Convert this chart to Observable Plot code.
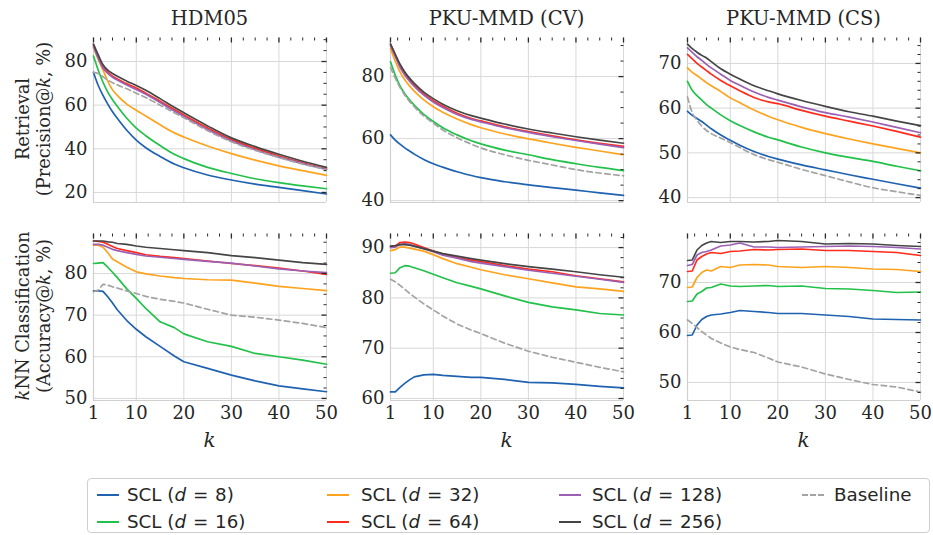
<!DOCTYPE html>
<html><head><meta charset="utf-8">
<script src="https://cdn.jsdelivr.net/npm/d3@7"></script>
<script src="https://cdn.jsdelivr.net/npm/@observablehq/plot@0.6"></script>
<style>
body{margin:0;background:#fff;}
#root{position:relative;width:933px;height:535px;overflow:hidden;font-family:"DejaVu Serif";color:#262626;background:#fff;}
.abs{position:absolute;}
.title{font-size:19.5px;white-space:nowrap;transform:translate(-50%,-50%);}
.ylab{font-size:17.8px;line-height:21px;text-align:center;white-space:nowrap;transform:translate(-50%,-50%) rotate(-90deg);}
.xlab{font-size:20px;font-style:italic;transform:translate(-50%,-50%);}
#legend{left:87px;top:478px;width:843px;height:55px;border:1px solid #cfcfcf;border-radius:4px;box-sizing:border-box;font-family:"DejaVu Sans";font-size:18.3px;color:#262626;}
.sw{position:absolute;height:0;}
.lt{position:absolute;white-space:nowrap;transform:translateY(-50%);}
.eq{padding:0 1px;}
svg text{font-family:"DejaVu Serif";}
</style></head>
<body><div id="root"></div>
<script>
const ks = [1,2,3,4,5,6,8,10,12,15,18,20,25,30,35,40,45,50];
const seriesNames = ["SCL (d = 8)","SCL (d = 16)","SCL (d = 32)","SCL (d = 64)","SCL (d = 128)","SCL (d = 256)","Baseline"];
const seriesD = ["8","16","32","64","128","256",null];
const colors = ["#1f62b0","#22c14a","#ffa31f","#ff2b1c","#9b5fb3","#454545","#a3a3a3"];
const xTicks = [1,10,20,30,40,50];

// order: d8, d16, d32, d64, d128, d256, baseline
const hdmRetrieval = [
  [75,69,64.5,60.5,57,54,48.5,44,40.5,36.5,33,31.3,28,25.7,23.8,22.3,20.8,19.3],
  [82.5,76,70.5,66,62.5,59.5,54,49.5,46,41.5,37.5,35.5,31.5,28.7,26.3,24.5,23,21.7],
  [86.5,81,76,71,67,64.5,60.5,57.7,55,51,47.3,45.4,41.3,37.8,34.8,32.2,30,27.8],
  [87.5,82,77.5,75,73.3,72,69.8,67.8,65.5,61.8,58,55.5,49.5,44.2,40.2,36.7,33.6,30.8],
  [87,81.5,77,74.5,72.8,71.5,69.2,67.2,65,61.2,57.3,54.8,48.8,43.6,39.6,36.2,33.2,30.5],
  [88,83,78.5,76,74.5,73.2,71,69,66.8,63,59,56.5,50.5,45,41,37.5,34.3,31.5],
  [75,74.5,73,71.5,70.3,69.3,67.5,65.5,63.5,60,56.5,54.2,48.3,43.2,39.3,36,33,30.5]
];
const cvRetrieval = [
  [61.2,59.5,58.2,57,56,55,53.3,51.9,50.8,49.3,48.1,47.4,46.1,45.1,44.2,43.4,42.5,41.7],
  [84.8,80.5,77,74.5,72.5,70.8,67.8,65.5,63.5,61.2,59.3,58.3,56.3,54.8,53.2,51.9,50.7,49.7],
  [89,85,81.5,79,77,75.3,72.5,70.3,68.5,66.3,64.5,63.5,61.5,59.9,58.5,57.2,56,54.8],
  [90.5,87,83.5,81,79,77.2,74.4,72.2,70.4,68.2,66.5,65.7,63.8,62.3,60.9,59.6,58.5,57.5],
  [90,86.5,83,80.5,78.5,76.8,74,71.8,70,67.8,66.2,65.4,63.5,62,60.6,59.4,58.2,57.1],
  [90.5,87.2,84,81.5,79.5,77.8,75,72.9,71.1,69,67.4,66.6,64.7,63.1,61.8,60.6,59.5,58.5],
  [83,79.5,76.5,74,72,70.3,67.3,65,62.8,60.3,58.2,57,54.8,53,51.5,50,48.9,48]
];
const csRetrieval = [
  [59.3,58.4,57.7,57,56.2,55.4,54,52.8,51.7,50.3,49.2,48.6,47.3,46.2,45.1,44.1,43.1,42.1],
  [66,64,62.8,61.8,60.8,60,58.5,57.2,56.1,54.7,53.5,52.9,51.3,50,49,48.1,47,46],
  [69,68,67.3,66.5,65.7,65,63.7,62.3,61.2,59.6,58.2,57.4,55.7,54.3,53.1,52,51,50],
  [72,71,70,69.2,68.4,67.6,66.2,65,63.9,62.4,61.4,61,59.5,58.2,57.1,56,54.8,53.5],
  [73.5,72.5,71.5,70.7,69.8,69,67.6,66.2,65.1,63.6,62.4,61.8,60.3,59,58,56.9,55.7,54.5],
  [74.3,73.3,72.5,71.8,71.2,70.4,68.8,67.6,66.5,65,63.9,63.2,61.7,60.4,59.2,58.2,57.1,56.1],
  [62.5,59,57.3,56,55,54.3,53.3,52.3,51.2,49.6,48.5,47.9,46.3,44.9,43.5,42.2,41.3,40.5]
];
const hdmKnn = [
  [75.8,75.8,75.7,74.4,72.9,71.3,68.7,66.6,64.8,62.5,60.2,58.8,57.2,55.6,54.2,53,52.3,51.6],
  [82.4,82.5,82.6,81.5,80.3,79,76.3,74,71.6,68.4,67,65.5,63.6,62.5,60.8,60,59.2,58.2],
  [86.8,86.8,86.3,85,83.5,82.8,81.5,80.4,79.9,79.4,79,78.8,78.5,78.4,77.7,76.9,76.4,75.9],
  [87.8,87.7,87.5,87,86.5,86,85.5,85,84.5,84.1,83.8,83.6,83,82.4,81.9,81.3,80.6,79.8],
  [87,87,86.8,86.3,85.8,85.5,85,84.6,84.2,83.9,83.6,83.4,82.9,82.5,81.8,81.1,80.6,80.2],
  [87.8,87.8,87.8,87.6,87.5,87.2,87,86.6,86.3,86,85.7,85.5,85,84.3,83.8,83.2,82.6,82.2],
  [75.6,76,77.4,77.2,76.8,76.5,75.8,75.2,74.5,73.8,73.3,72.9,71.4,70,69.5,68.8,68,67]
];
const cvKnn = [
  [61.3,61.3,62.2,63,63.7,64.3,64.7,64.8,64.6,64.4,64.2,64.2,63.8,63.2,63.1,62.8,62.4,62.1],
  [84.9,85,86,86.4,86.3,86,85.4,84.7,84,83,82.3,81.8,80.4,79.1,78.2,77.6,76.9,76.6],
  [89.4,89.6,90.1,90.1,89.9,89.7,89.3,88.6,87.8,86.8,86.1,85.6,84.6,83.8,83,82.2,81.8,81.3],
  [90.2,90.3,91,91.1,91,90.7,90,89.3,88.7,88,87.5,87.2,86.4,85.7,85.2,84.4,83.8,83.2],
  [90,90.1,90.6,90.8,90.6,90.3,89.8,89.2,88.5,87.9,87.2,86.9,86.2,85.5,84.9,84.3,83.7,83.1],
  [90.3,90.4,90.6,90.6,90.5,90.3,89.8,89.3,88.8,88.3,87.8,87.5,86.8,86.2,85.7,85.2,84.6,84.1],
  [83.7,83.2,82.5,81.7,80.9,80.2,78.8,77.6,76.4,74.8,73.6,72.9,71,69.4,68.2,67.2,66.2,65.3]
];
const csKnn = [
  [59.4,59.5,61.5,62.6,63.2,63.5,63.7,64,64.4,64.2,64,63.8,63.8,63.5,63.2,62.7,62.6,62.5],
  [66.2,66.3,67.7,68.2,68.9,69,69.7,69.3,69.2,69.3,69.4,69.2,69.3,68.8,68.7,68.4,68,68.1],
  [69,69.1,71,72,72.5,72.3,73.2,73,73.5,73.6,73.5,73.2,73,73.2,73,72.7,72.6,72.2],
  [72.2,72.3,74.5,75.2,75.7,76,75.8,76.2,76.3,76.6,76.5,76.6,76.7,76.4,76.4,76.2,76,75.4],
  [73.4,73.6,75.5,76,76.2,76.5,77.3,77.5,77.9,77.1,77.1,77,77.1,77.2,77.3,77.2,77,76.7],
  [74.4,74.5,76.5,77.4,77.9,78.2,78,78.2,78.2,78.1,78.2,78.4,78.2,77.7,77.8,77.7,77.4,77.2],
  [62.5,61.8,61,60.2,59.5,58.8,57.9,57.1,56.6,56,54.9,54.1,53.1,51.7,50.6,49.6,49.1,48.1]
];

const columnTitles = ["HDM05","PKU-MMD (CV)","PKU-MMD (CS)"];

const root = document.getElementById("root");

function toRows(arr){
  return arr.flatMap((vals, s) => vals.map((v, i) => ({k: ks[i], v, s: seriesNames[s]})));
}
function range(a, b, step){ const out=[]; for(let v=a; v<=b+1e-9; v+=step) out.push(+v.toFixed(4)); return out; }

const W = 233;
const FONT = "DejaVu Serif";
function panel({values, yDomain, yTicks, yMinorStep, left, top, plotH, showX, curve}){
  const mL = 50, mR = 8, mT = 6, mB = showX ? 38 : 6;
  const rows = toRows(values);
  const scl = rows.filter(d => d.s !== "Baseline");
  const base = rows.filter(d => d.s === "Baseline");
  const yMinor = range(Math.ceil(yDomain[0]/yMinorStep)*yMinorStep, yDomain[1], yMinorStep).filter(v => !yTicks.includes(v));
  const xMinor = range(2.5, 50, 2.5).filter(v => v % 10 !== 0);
  // tick-mark lengths in px, expressed in data units of each scale
  const yPerPx = (yDomain[1] - yDomain[0]) / plotH;
  const xPerPx = 49 / W;
  const yTop = yDomain[1];
  const tickColor = "#2a2a2a";
  const marks = [
    Plot.gridX(xTicks, {stroke:"#d8d8d8", strokeOpacity:1, strokeWidth:1}),
    Plot.gridY(yTicks, {stroke:"#d8d8d8", strokeOpacity:1, strokeWidth:1}),
    Plot.ruleY([yDomain[0]], {stroke:"#d0d0d0", strokeWidth:1.2}),
    Plot.ruleX([1], {stroke:"#d0d0d0", strokeWidth:1.2}),
    Plot.axisY(yTicks, {tickSize:0, tickPadding:6, fontSize:18, fontFamily:FONT, fill:"#262626", label:null}),
    Plot.line(scl, {x:"k", y:"v", z:"s", stroke:"s", strokeWidth:1.7, curve}),
    Plot.line(base, {x:"k", y:"v", stroke:"s", strokeWidth:1.7, strokeDasharray:"5.5,3.5", curve}),
    Plot.link(xMinor, {x1: d => d, x2: d => d, y1: () => yTop, y2: () => yTop - 3 * yPerPx, stroke:tickColor, strokeWidth:1}),
    Plot.link(xTicks, {x1: d => d, x2: d => d, y1: () => yTop, y2: () => yTop - 5 * yPerPx, stroke:tickColor, strokeWidth:1.3}),
    Plot.link(yMinor, {y1: d => d, y2: d => d, x1: () => 50, x2: () => 50 - 3 * xPerPx, stroke:tickColor, strokeWidth:1}),
    Plot.link(yTicks, {y1: d => d, y2: d => d, x1: () => 50, x2: () => 50 - 5 * xPerPx, stroke:tickColor, strokeWidth:1.3})
  ];
  if (showX) marks.push(Plot.axisX(xTicks, {tickSize:0, tickPadding:6, fontSize:18, fontFamily:FONT, fill:"#262626", label:null}));
  const chart = Plot.plot({
    width: mL + W + mR, height: mT + plotH + mB,
    marginLeft: mL, marginRight: mR, marginTop: mT, marginBottom: mB,
    x: showX ? {domain:[1,50], label:null} : {domain:[1,50], axis:null, label:null},
    y: {domain: yDomain, label:null},
    color: {domain: seriesNames, range: colors},
    style: {fontFamily:FONT, fontSize:"18px", color:"#262626", background:"transparent", overflow:"visible"},
    marks
  });
  const holder = document.createElement("div");
  holder.className = "abs";
  holder.style.left = (left - mL) + "px";
  holder.style.top = (top - mT) + "px";
  holder.appendChild(chart);
  root.appendChild(holder);
  if (showX){
    const xl = document.createElement("div");
    xl.className = "abs xlab";
    xl.style.left = (left + W/2) + "px";
    xl.style.top = "440px";
    xl.textContent = "k";
    root.appendChild(xl);
  }
}

const lefts = [93, 390, 687];
panel({values: hdmRetrieval, yDomain:[15.4, 91], yTicks:[20,40,60,80], yMinorStep:5, left:lefts[0], top:37, plotH:165, showX:false, curve:"monotone-x"});
panel({values: cvRetrieval, yDomain:[39.4, 92.6], yTicks:[40,60,80], yMinorStep:5, left:lefts[1], top:37, plotH:165, showX:false, curve:"monotone-x"});
panel({values: csRetrieval, yDomain:[38.9, 75.8], yTicks:[40,50,60,70], yMinorStep:2, left:lefts[2], top:37, plotH:165, showX:false, curve:"monotone-x"});
panel({values: hdmKnn, yDomain:[49.5, 89.6], yTicks:[50,60,70,80], yMinorStep:2.5, left:lefts[0], top:233, plotH:167, showX:true, curve:"linear"});
panel({values: cvKnn, yDomain:[59.6, 92.8], yTicks:[60,70,80,90], yMinorStep:2, left:lefts[1], top:233, plotH:167, showX:true, curve:"linear"});
panel({values: csKnn, yDomain:[46.4, 79.8], yTicks:[50,60,70], yMinorStep:2, left:lefts[2], top:233, plotH:167, showX:true, curve:"linear"});

// column titles
columnTitles.forEach((t, i) => {
  const d = document.createElement("div");
  d.className = "abs title";
  d.style.left = (lefts[i] + W/2) + "px";
  d.style.top = "18px";
  d.textContent = t;
  root.appendChild(d);
});
// row labels
function ylab(html, cy){
  const d = document.createElement("div");
  d.className = "abs ylab";
  d.style.left = "32.5px";
  d.style.top = cy + "px";
  d.innerHTML = html;
  root.appendChild(d);
}
ylab("Retrieval<br>(Precision@<i>k</i>, %)", 119);
ylab("<i>k</i>NN Classification<br>(Accuracy@<i>k</i>, %)", 316);

// legend
const legend = document.createElement("div");
legend.id = "legend"; legend.className = "abs";
root.appendChild(legend);
const colSw = [96, 326, 558, 801];
const colTx = [126, 360, 591, 833];
const rowY = [494, 521];
const order = [[0,0],[1,0],[0,1],[1,1],[0,2],[1,2],[0,3]]; // [row, col] per series
seriesNames.forEach((name, i) => {
  const [r, c] = order[i];
  const sw = document.createElement("div");
  sw.className = "sw";
  sw.style.left = (colSw[c] - 87) + "px";
  sw.style.top = (rowY[r] - 478 - 1) + "px";
  sw.style.width = "22px";
  sw.style.borderTop = (i === 6 ? "2px dashed " : "2px solid ") + colors[i];
  legend.appendChild(sw);
  const tx = document.createElement("div");
  tx.className = "lt";
  tx.style.left = (colTx[c] - 87) + "px";
  tx.style.top = (rowY[r] - 478 - 1) + "px";
  tx.innerHTML = seriesD[i] ? `SCL (<i>d</i> <span class="eq">=</span> ${seriesD[i]})` : name;
  legend.appendChild(tx);
});
</script>
</body></html>
